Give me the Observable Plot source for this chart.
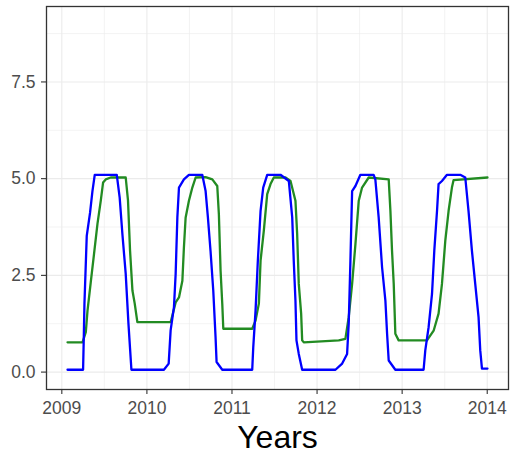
<!DOCTYPE html>
<html>
<head>
<meta charset="utf-8">
<script src="https://cdn.jsdelivr.net/npm/d3@7"></script>
<script src="https://cdn.jsdelivr.net/npm/@observablehq/plot@0.6"></script>
<style>
  body { margin: 0; background: #fff; }
  #chart { width: 525px; height: 455px; }
</style>
</head>
<body>
<div id="chart"></div>
<script>
// Blue series: decimal year and value at each breakpoint
const blueYear = [
  2009.067, 2009.25, 2009.258, 2009.266, 2009.293, 2009.332, 2009.36, 2009.387,
  2009.646, 2009.68, 2009.712, 2009.751, 2009.783, 2009.818,
  2010.20, 2010.256, 2010.279, 2010.318, 2010.338, 2010.358, 2010.377, 2010.435, 2010.494,
  2010.651, 2010.69, 2010.717, 2010.748, 2010.78, 2010.807, 2010.819, 2010.886,
  2011.238, 2011.25, 2011.277, 2011.304, 2011.336, 2011.367, 2011.414,
  2011.57, 2011.668, 2011.708, 2011.726, 2011.746, 2011.758, 2011.785, 2011.825,
  2012.216, 2012.295, 2012.353, 2012.372, 2012.392, 2012.412, 2012.451, 2012.509,
  2012.665, 2012.685, 2012.724, 2012.764, 2012.803, 2012.823, 2012.842, 2012.92,
  2013.252, 2013.272, 2013.311, 2013.351, 2013.378, 2013.41, 2013.428, 2013.468, 2013.527,
  2013.683, 2013.742, 2013.78, 2013.82, 2013.859, 2013.898, 2013.918, 2013.938, 2014.003
];
const blueValue = [
  0.06, 0.06, 0.87, 1.77, 3.52, 4.12, 4.68, 5.10,
  5.10, 4.51, 3.57, 2.54, 1.26, 0.06,
  0.06, 0.22, 1.08, 1.68, 2.54, 4.0, 4.77, 4.98, 5.10,
  5.10, 4.68, 4.0, 3.13, 2.11, 0.90, 0.26, 0.06,
  0.06, 0.64, 1.59, 2.88, 4.17, 4.77, 5.10,
  5.10, 4.94, 4.0, 2.88, 1.85, 0.82, 0.47, 0.06,
  0.06, 0.22, 0.47, 1.25, 2.88, 4.68, 4.81, 5.10,
  5.10, 4.98, 4.0, 2.71, 1.85, 0.99, 0.30, 0.06,
  0.06, 0.56, 1.16, 2.02, 3.14, 4.17, 4.86, 4.94, 5.10,
  5.10, 5.03, 4.17, 3.14, 2.28, 1.42, 0.56, 0.09, 0.09
];

// Green series: decimal year and value at each breakpoint
const greenYear = [
  2009.067, 2009.243, 2009.282, 2009.302, 2009.34, 2009.379, 2009.419, 2009.458, 2009.485, 2009.516, 2009.575,
  2009.751, 2009.778, 2009.802, 2009.83, 2009.857, 2009.888,
  2010.279, 2010.338, 2010.377, 2010.417, 2010.435, 2010.455, 2010.494, 2010.534, 2010.573,
  2010.69, 2010.769, 2010.827, 2010.846, 2010.866, 2010.886, 2010.898,
  2011.238, 2011.277, 2011.316, 2011.336, 2011.374, 2011.414, 2011.453, 2011.492,
  2011.629, 2011.688, 2011.746, 2011.766, 2011.785, 2011.813, 2011.825, 2011.844,
  2012.255, 2012.333, 2012.372, 2012.412, 2012.451, 2012.49, 2012.529, 2012.607,
  2012.842, 2012.862, 2012.881, 2012.901, 2012.92, 2012.959,
  2013.292, 2013.37, 2013.428, 2013.468, 2013.507, 2013.546, 2013.585, 2013.604, 2014.003
];
const greenValue = [
  0.77, 0.77, 1.03, 1.59, 2.32, 3.06, 3.83, 4.43, 4.90, 4.98, 5.03,
  5.03, 4.43, 3.14, 2.11, 1.77, 1.29,
  1.29, 1.80, 1.93, 2.36, 3.22, 3.99, 4.43, 4.77, 5.03,
  5.04, 4.98, 4.81, 4.08, 2.62, 1.76, 1.12,
  1.12, 1.33, 1.77, 2.88, 3.65, 4.60, 4.86, 5.03,
  5.03, 4.94, 4.43, 3.57, 2.28, 1.51, 0.82, 0.77,
  0.82, 0.86, 1.42, 2.28, 3.31, 4.43, 4.77, 5.03,
  4.98, 4.17, 3.14, 2.28, 0.99, 0.82,
  0.82, 1.07, 1.51, 2.28, 3.39, 4.17, 4.77, 4.96, 5.03
];

// Axis breaks
const yearTicks = [2009, 2010, 2011, 2012, 2013, 2014];
const yearMinor = [2009.5, 2010.5, 2011.5, 2012.5, 2013.5];
const valueTicks = [0, 2.5, 5, 7.5];
const valueMinor = [1.25, 3.75, 6.25, 8.75];

const blue = blueYear.map((x, i) => ({ x, y: blueValue[i] }));
const green = greenYear.map((x, i) => ({ x, y: greenValue[i] }));

const grid = "#ebebeb";
const tickText = "#4d4d4d";

const chart = Plot.plot({
  width: 525,
  height: 455,
  marginLeft: 46,
  marginRight: 17,
  marginTop: 6,
  marginBottom: 66,
  style: { fontFamily: "'Liberation Sans', Arial, sans-serif", background: "#fff" },
  x: { domain: [2008.82, 2014.25] },
  y: { domain: [-0.45, 9.45] },
  marks: [
    Plot.ruleX(yearMinor, { stroke: grid, strokeWidth: 0.6 }),
    Plot.ruleY(valueMinor, { stroke: grid, strokeWidth: 0.6 }),
    Plot.ruleX(yearTicks, { stroke: grid, strokeWidth: 1.1 }),
    Plot.ruleY(valueTicks, { stroke: grid, strokeWidth: 1.1 }),
    Plot.line(green, { x: "x", y: "y", stroke: "#228B22", strokeWidth: 2.3 }),
    Plot.line(blue, { x: "x", y: "y", stroke: "#0000FF", strokeWidth: 2.3 }),
    Plot.frame({ stroke: "#333333", strokeWidth: 1.3 }),
    Plot.axisX({
      ticks: yearTicks, tickFormat: "d", tickSize: 5, tickPadding: 7,
      stroke: "#333333", strokeWidth: 1.1, color: tickText, fontSize: 17.5, label: null
    }),
    Plot.axisY({
      ticks: valueTicks, tickFormat: ".1f", tickSize: 5, tickPadding: 6,
      stroke: "#333333", strokeWidth: 1.1, color: tickText, fontSize: 17.5, label: null
    }),
    Plot.text(["Years"], {
      frameAnchor: "bottom", dy: 48, fontSize: 32, fill: "#000", lineAnchor: "middle"
    })
  ]
});
document.getElementById("chart").appendChild(chart);
</script>
</body>
</html>
